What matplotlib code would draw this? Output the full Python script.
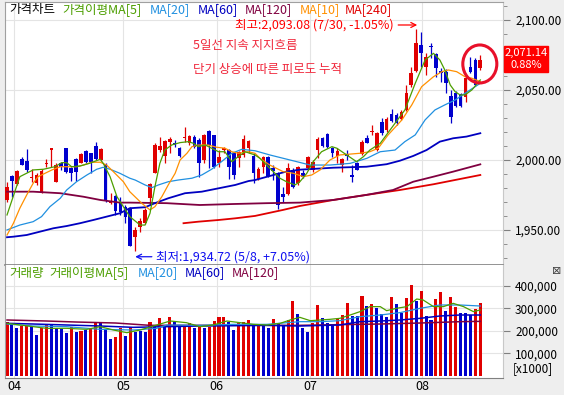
import numpy as np
import matplotlib
matplotlib.use("Agg")
import matplotlib.pyplot as plt
from matplotlib.patches import Ellipse, Rectangle
from matplotlib.ticker import MultipleLocator, FuncFormatter

plt.rcParams['font.family'] = ['Noto Sans CJK KR', 'DejaVu Sans']

# ── Data ──────────────────────────────────────────────────────────────────────
opens = [1971.4, 1988.5, 1982.8, 2000.4, 1999.2, 1986.8, 1983.3, 1976.1, 1997.1, 2007.0,
         1984.5, 1997.5, 2008.7, 1994.0, 2000.4, 1998.0, 2006.6, 2004.7, 2009.9, 1999.9,
         1996.8, 1969.0, 1974.2, 1970.2, 1966.2, 1964.7, 1945.2, 1952.4, 1955.2, 1972.6,
         1990.4, 2007.0, 2002.8, 2013.0, 2012.3, 2008.2, 2015.4, 2011.8, 2016.6, 2014.2,
         1999.9, 2020.8, 2017.8, 1998.0, 2007.0, 2007.0, 2004.7, 2001.1, 2003.5, 2008.2,
         2003.0, 1986.1, 1994.7, 2001.8, 1994.0, 1990.4, 1975.4, 1975.4, 1992.8, 1983.3,
         1990.4, 1994.0, 1992.8, 2007.1, 2015.4, 2018.5, 2008.2, 2002.8, 1996.4, 2004.2,
         1989.2, 1998.0, 2004.2, 2015.9, 2019.9, 2007.1, 2027.3, 2021.3, 2032.5, 2032.0,
         2029.2, 2035.6, 2053.4, 2063.6, 2081.9, 2066.5, 2081.5, 2075.5, 2063.6, 2062.9,
         2045.6, 2047.9, 2046.8, 2045.1, 2066.5, 2071.2, 2065.3]
highs = [1984.5, 1989.2, 1992.8, 2001.8, 2007.5, 1993.3, 1990.4, 1993.3, 2000.4, 2008.7,
         1997.5, 1998.7, 2008.7, 1995.2, 2001.1, 2004.7, 2007.0, 2005.1, 2013.0, 2008.2,
         1997.5, 1976.6, 1974.9, 1973.8, 1967.8, 1966.2, 1952.4, 1958.3, 1965.4, 1983.7,
         2011.8, 2016.6, 2014.2, 2016.1, 2014.2, 2009.4, 2023.2, 2017.8, 2017.8, 2015.4,
         2018.5, 2021.3, 2017.8, 2007.0, 2009.4, 2007.5, 2005.9, 2006.6, 2017.8, 2014.2,
         2004.7, 1994.7, 2002.8, 2002.8, 1996.4, 1991.6, 1980.9, 1997.5, 1994.0, 1995.6,
         1992.8, 2002.8, 1999.9, 2016.6, 2016.6, 2018.9, 2009.4, 2008.2, 2001.1, 2007.1,
         1996.4, 1998.7, 2014.2, 2017.8, 2024.9, 2020.1, 2029.6, 2030.8, 2036.1, 2033.2,
         2035.6, 2053.4, 2066.0, 2093.08, 2091.5, 2076.0, 2083.6, 2076.5, 2065.3, 2064.6,
         2049.8, 2049.4, 2047.5, 2059.8, 2073.6, 2072.4, 2074.8]
lows = [1970.2, 1973.8, 1982.1, 1996.0, 1991.6, 1984.5, 1982.1, 1976.1, 1995.2, 1995.2,
        1984.5, 1992.8, 1990.4, 1985.2, 1985.2, 1997.5, 1997.5, 1990.9, 1999.9, 1999.2,
        1970.2, 1968.5, 1960.7, 1960.7, 1955.2, 1938.6, 1934.72, 1948.8, 1954.3, 1967.8,
        1990.4, 2005.9, 1997.5, 2004.7, 2009.4, 2001.8, 2013.0, 2010.6, 2008.2, 1988.0,
        1997.5, 1994.0, 1994.0, 1995.2, 2004.7, 1986.1, 1986.1, 1995.2, 2002.3, 2004.7,
        1983.3, 1985.7, 1990.4, 1988.0, 1985.7, 1964.7, 1970.2, 1975.0, 1979.7, 1982.1,
        1986.8, 1992.8, 1991.6, 2001.1, 2009.4, 2008.2, 2002.3, 1997.5, 1991.6, 1999.9,
        1984.5, 1992.8, 2003.5, 2011.8, 2017.8, 2006.6, 2017.7, 2020.1, 2027.3, 2024.9,
        2028.4, 2035.1, 2052.2, 2062.9, 2066.5, 2060.5, 2072.4, 2059.4, 2055.8, 2047.5,
        2026.1, 2037.5, 2037.5, 2041.5, 2061.7, 2052.8, 2064.1]
closes = [1980.9, 1984.9, 1992.1, 1996.4, 1992.8, 1988.0, 1989.2, 1992.3, 1998.0, 2008.2,
          1996.4, 1995.2, 1991.6, 1990.4, 1991.6, 2004.2, 1998.7, 1998.7, 2000.4, 2007.5,
          1970.7, 1970.7, 1963.8, 1963.1, 1959.0, 1938.6, 1950.0, 1956.6, 1964.2, 1982.6,
          2010.6, 2009.9, 2013.5, 2014.9, 2010.6, 2002.8, 2016.6, 2017.0, 2009.4, 1997.5,
          2017.8, 2010.6, 1995.2, 2002.3, 2008.2, 1995.2, 1989.2, 2005.9, 2014.9, 2013.7,
          1990.4, 1993.3, 2001.8, 1988.7, 1992.3, 1967.8, 1973.8, 1994.0, 1980.9, 1994.7,
          1988.0, 2001.8, 1998.7, 2014.7, 2009.9, 2009.4, 2004.7, 2006.6, 2000.6, 2002.8,
          1988.0, 1992.8, 2013.0, 2012.3, 2020.6, 2019.4, 2018.9, 2028.9, 2028.0, 2026.1,
          2033.9, 2047.9, 2061.7, 2083.1, 2076.0, 2073.6, 2080.3, 2065.8, 2062.2, 2054.6,
          2030.8, 2038.4, 2038.4, 2058.2, 2062.9, 2053.1, 2071.14]

# price moving averages: (candle index, value)
ma5_x = [0, 2.6, 5.3, 7.4, 9.7, 11.1, 12.1, 13.1, 14.8, 16.8, 18.9, 19.5, 20.9, 22.3, 23.6,
         24.9, 27.0, 28.0, 29.0, 30.0, 31.0, 32.0, 33.4, 35.1, 36.8, 37.8, 38.8, 40.2, 41.5,
         42.9, 44.2, 45.6, 46.9, 48.3, 50.3, 51.3, 53.3, 55.4, 56.7, 58.4, 59.4, 60.8, 62.1,
         63.8, 65.9, 66.9, 68.9, 70.9, 72.3, 73.6, 75.7, 78.7, 80.7, 82.8, 84.8, 86.5, 87.8,
         88.8, 89.9, 90.9, 91.9, 92.9, 94.3, 96]
ma5_v = [1960.7, 1988.0, 1992.8, 1993.3, 1995.1, 1998.0, 1998.0, 1995.1, 1995.6, 1997.6,
         2000.4, 1997.6, 1988.0, 1973.7, 1966.6, 1959.5, 1953.5, 1953.5, 1961.9, 1980.9,
         1997.5, 2007.0, 2010.6, 2012.3, 2013.0, 2011.8, 2009.4, 2010.6, 2008.3, 2005.8,
         2005.8, 1998.7, 2002.3, 2005.8, 2003.5, 2001.1, 1994.0, 1986.8, 1984.4, 1982.1,
         1984.4, 1990.4, 1998.7, 2005.8, 2009.4, 2008.3, 2003.5, 1998.7, 2002.3, 2007.0,
         2011.8, 2026.1, 2035.6, 2054.6, 2071.2, 2076.0, 2071.2, 2064.1, 2053.4, 2048.6,
         2046.3, 2046.3, 2049.9, 2057.0]
ma10_x = [0, 1.3, 2.6, 4.0, 5.3, 6.3, 7.7, 9.1, 10.8, 14.1, 15.5, 17.2, 18.9, 20.2, 21.9,
          23.6, 24.9, 27.3, 29.0, 30.0, 31.4, 32.7, 34.1, 35.1, 36.5, 37.5, 38.8, 40.8, 42.5,
          44.2, 45.6, 46.9, 48.9, 50.3, 51.3, 53.3, 56.0, 58.1, 60.1, 61.8, 63.5, 65.5, 67.5,
          71.6, 73.6, 75.3, 77.3, 80.1, 82.1, 84.1, 86.5, 88.2, 89.5, 91.2, 92.9, 94.3, 96]
ma10_v = [1946.4, 1954.8, 1965.5, 1975.0, 1983.3, 1988.0, 1990.4, 1992.8, 1995.1, 1995.1,
          1996.3, 1998.3, 1998.3, 1996.3, 1990.4, 1984.4, 1977.3, 1969.1, 1964.3, 1966.6,
          1973.7, 1982.1, 1990.4, 1999.9, 2004.7, 2009.4, 2010.6, 2010.6, 2009.0, 2008.3,
          2005.8, 2004.7, 2005.8, 2004.7, 2001.1, 1996.3, 1991.6, 1990.4, 1988.0, 1989.2,
          1992.8, 1999.9, 2003.5, 2004.7, 2005.8, 2008.3, 2017.8, 2028.5, 2039.2, 2052.2,
          2059.3, 2062.9, 2064.1, 2062.9, 2059.3, 2058.2, 2055.8]
ma20_x = [0, 2.6, 5.3, 7.0, 8.7, 10.8, 12.1, 14.1, 16.2, 18.2, 19.5, 20.9, 22.9, 24.9, 26.0,
          28.0, 29.4, 30.7, 32.7, 34.7, 37.5, 39.5, 41.5, 43.5, 45.6, 47.6, 50.3, 53.3, 57.4,
          61.5, 65.5, 69.6, 73.0, 75.7, 78.7, 80.7, 82.8, 84.8, 86.8, 88.8, 90.9, 92.9, 96]
ma20_v = [1950.0, 1953.5, 1955.9, 1959.5, 1966.6, 1972.6, 1978.5, 1984.4, 1989.2, 1993.3,
          1994.7, 1993.3, 1990.4, 1986.9, 1985.6, 1982.1, 1980.2, 1982.1, 1984.4, 1985.6,
          1986.9, 1989.2, 1993.3, 1998.7, 2004.7, 2007.5, 2006.5, 2003.5, 1999.9, 1996.3,
          1996.3, 1997.5, 2001.1, 2005.8, 2007.0, 2013.0, 2017.8, 2028.5, 2035.6, 2039.2,
          2042.7, 2047.5, 2054.6]
ma60_x = [0, 1.3, 4.0, 6.7, 9.4, 12.1, 14.8, 17.5, 20.2, 22.9, 24.9, 28.0, 30.0, 32.7, 36.1,
          39.5, 42.9, 46.3, 49.0, 50.3, 53.3, 56.4, 59.4, 66.2, 72.9, 77.0, 79.7, 82.4, 85.1,
          87.8, 90.5, 93.2, 96]
ma60_v = [1944.8, 1945.2, 1946.4, 1948.8, 1951.2, 1952.8, 1954.8, 1957.1, 1959.5, 1961.9,
          1965.5, 1966.2, 1969.1, 1972.6, 1976.2, 1977.3, 1979.7, 1982.1, 1984.9, 1985.6,
          1988.5, 1991.4, 1993.0, 1994.4, 1995.1, 1996.9, 1999.4, 2002.8, 2007.0, 2013.0,
          2015.4, 2016.6, 2019.0]
ma120_x = [0, 5.3, 10.8, 15.5, 18.9, 22.9, 24.9, 32.4, 39.1, 45.9, 52.7, 59.4, 66.2, 72.9,
           78.3, 82.4, 86.5, 90.5, 96]
ma120_v = [1977.3, 1977.3, 1976.2, 1973.7, 1971.4, 1969.5, 1969.5, 1969.1, 1967.8, 1968.5,
           1969.1, 1969.5, 1971.4, 1975.0, 1978.5, 1984.4, 1988.0, 1991.6, 1996.8]
ma240_x = [35.8, 38.8, 42.9, 46.3, 50.3, 56.0, 59.4, 66.2, 72.9, 79.7, 86.5, 96]
ma240_v = [1954.8, 1955.9, 1957.1, 1958.3, 1960.0, 1964.3, 1967.1, 1971.4, 1975.0, 1978.5,
           1982.6, 1989.2]

# volume in thousands of the displayed unit ([x1000])
vol_k = [240.6, 230.2, 213.9, 221.3, 225.8, 218.4, 181.3, 211.0, 225.8, 225.8,
         211.0, 206.5, 191.7, 218.4, 196.1, 200.6, 203.5, 211.0, 237.6, 233.2,
         203.5, 163.6, 173.9, 211.0, 178.4, 218.4, 196.1, 199.1, 196.1, 240.6,
         225.8, 258.4, 225.8, 262.8, 240.6, 218.4, 225.8, 236.1, 213.9, 218.4,
         211.0, 218.4, 243.5, 262.8, 262.8, 240.6, 203.5, 233.2, 240.6, 248.0,
         230.2, 225.8, 228.7, 211.0, 252.4, 228.7, 225.8, 248.0, 333.9, 273.2,
         211.0, 196.1, 236.1, 314.7, 255.4, 236.1, 228.7, 251.0, 270.2, 325.0,
         265.8, 265.8, 354.6, 310.2, 319.1, 299.8, 273.2, 259.8, 351.7, 319.1,
         277.6, 345.8, 403.5, 333.9, 376.9, 265.8, 248.0, 341.3, 371.0, 289.5,
         348.7, 304.3, 277.6, 279.1, 270.2, 296.9, 325.0]
vol_dir = ("rbbrrbbrrbbbbrbrbrrbbbrrbrbbbrbrbrbbrrbrbrrrrbbrrrbrbbrbbrrb"
           "bbrrbbbrrrbbrbrbbbrbbrrbrbbrrbrrbbbrr")

vma5_x = [0, 5.3, 8.0, 12.1, 16.2, 18.9, 21.6, 24.3, 27.0, 29.7, 33.1, 36.4, 39.1, 41.8,
          44.6, 47.3, 50.0, 52.7, 55.4, 57.4, 59.4, 61.5, 63.5, 65.5, 67.5, 69.6, 71.6, 73.6,
          75.7, 77.0, 79.0, 81.1, 83.1, 84.4, 86.5, 88.5, 90.5, 92.6, 94.6, 96]
vma5_k = [233.2, 218.4, 211.0, 211.0, 206.5, 218.4, 203.5, 191.7, 203.5, 221.3, 243.5,
          236.1, 218.4, 225.8, 243.5, 236.1, 228.7, 225.8, 233.2, 248.0, 259.8, 245.0,
          248.0, 251.0, 255.4, 270.2, 285.2, 307.4, 307.4, 289.5, 300.0, 307.4, 341.3,
          337.0, 307.4, 307.4, 322.0, 307.4, 285.2, 292.6]
vma20_x = [0, 5.3, 12.1, 18.9, 25.6, 30.4, 32.4, 39.1, 45.9, 52.7, 59.4, 63.5, 67.5, 71.6,
           75.7, 79.7, 83.8, 87.8, 91.9, 96]
vma20_k = [230.2, 221.3, 218.4, 206.5, 203.5, 211.0, 225.8, 224.3, 228.7, 228.7, 240.6,
           240.6, 245.0, 262.8, 270.2, 280.7, 300.0, 314.7, 314.7, 310.2]
vma60_x = [0, 5.3, 12.1, 18.9, 25.6, 32.4, 39.1, 45.9, 52.7, 59.4, 67.5, 71.6, 75.7, 79.7,
           83.8, 87.8, 91.9, 96]
vma60_k = [233.2, 230.2, 225.8, 221.3, 215.4, 218.4, 221.3, 222.8, 224.3, 221.3, 225.8,
           240.6, 243.5, 248.0, 255.4, 265.8, 270.2, 270.2]
vma120_x = [0, 8.0, 14.1, 22.0, 29.0, 59.4, 67.5, 75.7, 83.8, 91.9, 96]
vma120_k = [248.0, 243.5, 239.0, 234.6, 224.3, 224.3, 227.3, 230.2, 234.6, 240.6, 242.0]

month_pos = [1.5, 23.5, 42.5, 61.5, 84.2]
month_labels = ["04", "05", "06", "07", "08"]

# ── Style ─────────────────────────────────────────────────────────────────────
RED, BLUE = "#E00000", "#0000CD"
C5, C10, C20, C60, C120, C240 = "#4C9E00", "#FF9000", "#2090E0", "#0000C0", "#800040", "#E00000"
GRID = "#E4E4E4"
FS = 8.5      # tick labels
FT = 9        # legend / note text
W, H = 564, 395
# ──────────────────────────────────────────────────────────────────────────────


def fx(px):
    return px / W


def fy(py):
    return 1 - py / H


def idx(px):
    return (px - 7) / 4.93


fig = plt.figure(figsize=(W / 100, H / 100), dpi=100, facecolor="#EEEEEE")
ax = fig.add_axes([fx(5), fy(265), (502.5 - 5) / W, (265 - 2) / H])
ax2 = fig.add_axes([fx(5), fy(377.5), (502.5 - 5) / W, (377.5 - 265) / H])

#%% price panel
o, h, l, c = map(np.array, (opens, highs, lows, closes))
x = np.arange(len(o))
cols = np.where(c >= o, RED, BLUE)
ax.vlines(x, l, h, colors=cols, lw=0.9, zorder=3)
ax.bar(x, np.maximum(np.abs(c - o), 0.7), bottom=np.minimum(o, c), width=0.74,
       color=cols, lw=0, zorder=4)

ax.plot(ma240_x, ma240_v, color=C240, lw=1.3, zorder=5)
ax.plot(ma120_x, ma120_v, color=C120, lw=1.3, zorder=5)
ax.plot(ma60_x, ma60_v, color=C60, lw=1.3, zorder=5)
ax.plot(ma20_x, ma20_v, color=C20, lw=0.9, zorder=5)
ax.plot(ma10_x, ma10_v, color=C10, lw=0.9, zorder=5)
ax.plot(ma5_x, ma5_v, color=C5, lw=0.9, zorder=5)

ax.set_xlim(-0.41, 100.5)
ax.set_ylim(1925.0, 2112.6)
ax.set_xticks(month_pos)
ax.tick_params(axis="x", length=0, labelbottom=False)
ax.yaxis.tick_right()
ax.set_yticks([1950, 2000, 2050, 2100])
ax.yaxis.set_minor_locator(MultipleLocator(10))
ax.yaxis.set_major_formatter(FuncFormatter(lambda v, p: f"{v:,.2f}"))
ax.tick_params(axis="y", which="major", length=5, color="#808080", labelsize=FS, pad=4)
ax.tick_params(axis="y", which="minor", length=3, color="#808080")
ax.grid(True, color=GRID, lw=0.8)
ax.set_axisbelow(True)
for s in ("left", "top"):
    ax.spines[s].set_color("#A0A0A0")
ax.spines["right"].set_color("#C8C8C8")
ax.spines["bottom"].set_color("#808080")
ax.spines["bottom"].set_linewidth(1.2)

ax.annotate("최고:2,093.08 (7/30, -1.05%)", xy=(83.2, 2096.2), xytext=(idx(394), 2096.2),
            ha="right", va="center", color="#FF0000", fontsize=FT,
            arrowprops=dict(arrowstyle="->", color="#FF0000", lw=0.9, shrinkA=1, shrinkB=0))
ax.annotate("최저:1,934.72 (5/8, +7.05%)", xy=(26, 1930.9), xytext=(idx(156), 1930.9),
            ha="left", va="center", color="#1010F0", fontsize=FT,
            arrowprops=dict(arrowstyle="->", color="#1010F0", lw=0.9, shrinkA=1, shrinkB=0))
ax.text(idx(193), 2081.9, "5일선 지속 지지흐름", color="#F0283C", fontsize=FT, va="center")
ax.text(idx(193), 2064.1, "단기 상승에 따른 피로도 누적", color="#F0283C", fontsize=FT, va="center")
ax.add_patch(Ellipse((95.9, 2068.4), 6.9, 27.1, fill=False, ec="#E8102A", lw=2.2,
                     zorder=6, clip_on=False))

#%% volume panel
v = np.array(vol_k) * 1000
vcols = [RED if d == "r" else BLUE for d in vol_dir]
ax2.bar(x, v, width=0.62, color=vcols, lw=0, zorder=2)
ax2.plot(vma120_x, np.array(vma120_k) * 1000, color=C120, lw=1.1, zorder=3)
ax2.plot(vma60_x, np.array(vma60_k) * 1000, color=C60, lw=1.1, zorder=3)
ax2.plot(vma20_x, np.array(vma20_k) * 1000, color=C20, lw=0.9, zorder=3)
ax2.plot(vma5_x, np.array(vma5_k) * 1000, color=C5, lw=0.9, zorder=3)

ax2.set_xlim(-0.41, 100.5)
ax2.set_ylim(-7556, 492444)
ax2.set_xticks(month_pos, month_labels)
ax2.tick_params(axis="x", length=0, pad=2, labelsize=9)
ax2.yaxis.tick_right()
ax2.set_yticks([100000, 200000, 300000, 400000])
ax2.yaxis.set_major_formatter(FuncFormatter(lambda v, p: f"{v:,.0f}"))
ax2.tick_params(axis="y", length=5, color="#808080", labelsize=FS, pad=4)
ax2.grid(True, color=GRID, lw=0.8)
ax2.set_axisbelow(True)
ax2.spines["top"].set_visible(False)
ax2.spines["left"].set_color("#A0A0A0")
ax2.spines["right"].set_color("#C8C8C8")
ax2.spines["bottom"].set_color("#808080")

#%% legends and labels
price_legend = [(9, "가격차트", "black"), (62, "가격이평MA[5]", C5), (150, "MA[20]", C20),
                (198, "MA[60]", C60), (245, "MA[120]", C120), (300, "MA[10]", C10),
                (345, "MA[240]", C240)]
for px, s, col in price_legend:
    fig.text(fx(px), fy(10), s, color=col, fontsize=FT, va="center", ha="left")

vol_legend = [(9, "거래량", C5), (49, "거래이평MA[5]", C5), (138, "MA[20]", C20),
              (185, "MA[60]", C60), (232, "MA[120]", C120)]
for px, s, col in vol_legend:
    fig.text(fx(px), fy(273), s, color=col, fontsize=FT, va="center", ha="left")

fig.patches.append(Rectangle((fx(504), fy(72)), 44 / W, 26 / H, transform=fig.transFigure,
                             color="#FF0000", zorder=5))
fig.text(fx(526), fy(53), "2,071.14", color="white", fontsize=8, ha="center", va="center", zorder=6)
fig.text(fx(526), fy(65.5), "0.88%", color="white", fontsize=8, ha="center", va="center", zorder=6)
fig.text(fx(513), fy(369), "[x1000]", color="black", fontsize=FS, ha="left", va="center")
fig.text(fx(557), fy(271), "⊠", family="DejaVu Sans", color="#404040", fontsize=8,
         ha="center", va="center")

fig.savefig("out.png", dpi=100, facecolor=fig.get_facecolor())
